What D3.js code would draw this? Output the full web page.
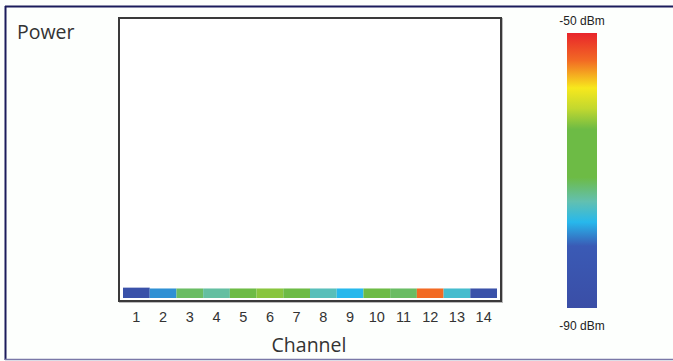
<!DOCTYPE html>
<head>
  <meta charset="utf-8">
  <script src="https://d3js.org/d3.v7.min.js"></script>
  <style>
    body { margin: 0; background: #fff; }
  </style>
</head>
<body>
  <script>
    // data
    var channels = [1, 2, 3, 4, 5, 6, 7, 8, 9, 10, 11, 12, 13, 14];
    var signal = [-88, -79, -72, -74, -68, -63, -69, -75, -77.5, -69, -72, -54, -76, -88]; // dBm
    var power = [3.7, 3.4, 3.4, 3.4, 3.4, 3.4, 3.4, 3.4, 3.4, 3.4, 3.4, 3.4, 3.4, 3.4]; // % of plot height
    var dbmRange = [-90, -50];
    var colorStops = [-90, -81, -77.5, -74.5, -71, -64, -61, -58, -54, -50];
    var stopColors = ["#3a4ea6", "#3a5ab5", "#27b8ec", "#62c0b0", "#6dbb45", "#6dbb45", "#c2d82f", "#f7e81d", "#f26a24", "#e8252b"];

    var width = 673, height = 361;
    var plot = {left: 119, top: 18, right: 501, bottom: 301};

    var svg = d3.select("body").append("svg")
      .attr("width", width)
      .attr("height", height);

    svg.append("rect")
      .attr("width", width).attr("height", height)
      .attr("fill", "#fdfffd");

    // outer frame
    svg.append("line").attr("x1", 5.5).attr("x2", 5.5).attr("y1", 6).attr("y2", 360)
      .attr("stroke", "#1c1c5c").attr("stroke-width", 2);
    svg.append("line").attr("x1", 5).attr("x2", 673).attr("y1", 6.5).attr("y2", 6.5)
      .attr("stroke", "#1c1c5c").attr("stroke-width", 2);
    svg.append("line").attr("x1", 5).attr("x2", 673).attr("y1", 359.5).attr("y2", 359.5)
      .attr("stroke", "#7a78a8").attr("stroke-width", 1.5);

    var color = d3.scaleLinear().domain(colorStops).range(stopColors);

    var x = d3.scaleBand()
      .domain(channels)
      .range([123, 497])
      .padding(0);

    var y = d3.scaleLinear()
      .domain([0, 100])
      .range([plot.bottom - 3, plot.top]);

    // plot box
    svg.append("rect")
      .attr("x", plot.left + 1).attr("y", plot.top + 1)
      .attr("width", plot.right - plot.left).attr("height", plot.bottom - plot.top)
      .attr("fill", "none").attr("stroke", "#bbb").attr("stroke-width", 2);
    svg.append("rect")
      .attr("x", plot.left).attr("y", plot.top)
      .attr("width", plot.right - plot.left).attr("height", plot.bottom - plot.top)
      .attr("fill", "#fff").attr("stroke", "#3a3a3a").attr("stroke-width", 2);

    svg.selectAll("rect.bar").data(channels)
      .enter().append("rect")
        .attr("class", "bar")
        .attr("x", function(d) { return x(d); })
        .attr("y", function(d, i) { return y(power[i]); })
        .attr("width", x.bandwidth())
        .attr("height", function(d, i) { return y(0) - y(power[i]); })
        .attr("fill", function(d, i) { return color(signal[i]); });

    // x axis labels
    var xAxis = svg.append("g")
      .attr("transform", "translate(0," + (plot.bottom + 1) + ")")
      .call(d3.axisBottom(x).tickSize(0).tickPadding(10));
    xAxis.select(".domain").remove();
    xAxis.selectAll("text")
      .attr("font-family", "Liberation Sans, Arial, sans-serif")
      .attr("font-size", 14.5)
      .attr("fill", "#333");

    svg.append("text")
      .attr("x", 309).attr("y", 352)
      .attr("text-anchor", "middle")
      .attr("font-family", "Open Sans, sans-serif")
      .attr("font-size", 19.5)
      .attr("fill", "#333")
      .text("Channel");

    svg.append("text")
      .attr("x", 17).attr("y", 39)
      .attr("font-family", "Open Sans, sans-serif")
      .attr("font-size", 19.5)
      .attr("fill", "#333")
      .text("Power");

    // color legend
    var cb = {x: 567, y: 33, w: 30, h: 275};
    var cy = d3.scaleLinear().domain(dbmRange).range([cb.y + cb.h, cb.y]);

    var grad = svg.append("defs").append("linearGradient")
      .attr("id", "cbar")
      .attr("x1", 0).attr("x2", 0).attr("y1", 1).attr("y2", 0);
    grad.selectAll("stop").data(colorStops)
      .enter().append("stop")
        .attr("offset", function(d) { return (d - dbmRange[0]) / (dbmRange[1] - dbmRange[0]); })
        .attr("stop-color", function(d, i) { return stopColors[i]; });

    svg.append("rect")
      .attr("x", cb.x).attr("y", cy(dbmRange[1]))
      .attr("width", cb.w).attr("height", cy(dbmRange[0]) - cy(dbmRange[1]))
      .attr("fill", "url(#cbar)");

    svg.append("text")
      .attr("x", cb.x + cb.w / 2).attr("y", cy(dbmRange[1]) - 8)
      .attr("text-anchor", "middle")
      .attr("font-family", "Liberation Sans Narrow, Arial Narrow, sans-serif")
      .attr("font-size", 12)
      .attr("fill", "#222")
      .text(dbmRange[1] + " dBm");

    svg.append("text")
      .attr("x", cb.x + cb.w / 2).attr("y", cy(dbmRange[0]) + 22)
      .attr("text-anchor", "middle")
      .attr("font-family", "Liberation Sans Narrow, Arial Narrow, sans-serif")
      .attr("font-size", 12)
      .attr("fill", "#222")
      .text(dbmRange[0] + " dBm");
  </script>
</body>
